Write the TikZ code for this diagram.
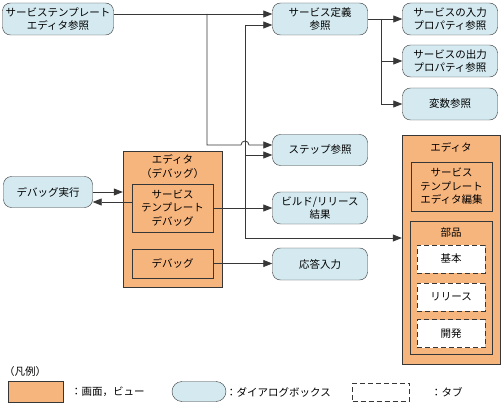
\documentclass[tikz,border=0pt]{standalone}
\usepackage{fontspec}
\setmainfont{Noto Sans CJK JP}
\usepackage{xcolor}
\usepackage{tikz}
\usetikzlibrary{
  arrows.meta,
  positioning,
  calc,
  shapes}
\definecolor{gamen}{RGB}{247,181,126}
\definecolor{dialog}{RGB}{212,234,240}
\definecolor{sen}{RGB}{55,55,55}
\tikzset{every picture/.style={font issue=\fontsize{10.5}{13.5}},
         font issue/.style={execute at begin picture={#1\selectfont}}
        }
\tikzset{dlg/.style={draw=sen, fill=dialog, rounded corners=8pt, minimum width=95pt, minimum height=32pt, align=center, inner sep=1pt},
         scr/.style={draw=sen, fill=gamen, align=center, inner sep=1pt},
         tabbox/.style={draw=sen, dashed, dash pattern=on 5pt off 3pt, fill=white, minimum width=68pt, minimum height=28pt},
         conn/.style={sen, line width=0.8pt},
         arr/.style={conn, -{Triangle[length=9pt,width=7pt]}}
        }

\begin{document}
\begin{tikzpicture}[x=1pt,y=-1pt]
\useasboundingbox (0,0) rectangle (504,404);

%Dialogs
\node[dlg, minimum width=111pt] (steref) at (58,19) {サービステンプレート\\エディタ参照};
\node[dlg] (sdef) at (320,19) {サービス定義\\参照};
\node[dlg] (inprop) at (450,19) {サービスの入力\\プロパティ参照};
\node[dlg] (outprop) at (450,61) {サービスの出力\\プロパティ参照};
\node[dlg] (varref) at (450,104) {変数参照};
\node[dlg, minimum height=31pt] (stepref) at (320,150) {ステップ参照};
\node[dlg] (build) at (320,208) {ビルド/リリース\\結果};
\node[dlg] (resp) at (320,264) {応答入力};
\node[dlg, minimum width=89pt, minimum height=31pt] (dbgrun) at (48,192) {デバッグ実行};

%Debug editor
\node[scr, minimum width=99pt, minimum height=136pt] (dbgeditor) at (172.5,219) {};
\node[below=3pt of dbgeditor.north, align=center, inner sep=1pt] (dbgtitle) {エディタ\\（デバッグ）};
\node[scr, minimum width=81pt, minimum height=48pt] (stdbg) at (172.5,208) {サービス\\テンプレート\\デバッグ};
\node[scr, minimum width=81pt, minimum height=29pt] (dbg) at (172.5,263.5) {デバッグ};

%Editor
\node[scr, minimum width=98pt, minimum height=229pt] (editor) at (451,249.5) {};
\node[below=7pt of editor.north, inner sep=1pt] (edtitle) {エディタ};
\node[scr, minimum width=81pt, minimum height=49pt] (steedit) at (451.5,186.5) {サービス\\テンプレート\\エディタ編集};
\node[scr, minimum width=82pt, minimum height=133pt] (parts) at (451,287.5) {};
\node[below=6pt of parts.north, inner sep=1pt] (partstitle) {部品};
\node[tabbox] (basic) at (451,259) {基本};
\node[tabbox] (release) at (451,297) {リリース};
\node[tabbox] (dev) at (451,333.5) {開発};

%Connectors
\coordinate (ja) at (207,14);
\coordinate (jtop) at (245,25);
\coordinate (jstep) at (245,155);
\coordinate (jbot) at (245,238);
\coordinate (jdef) at (381,19);

\draw[arr] ([yshift=5pt]steref.east) -- ([yshift=5pt]sdef.west);
\draw[arr] (ja) -- (207,145) -- (241,145) arc[start angle=180, end angle=0, radius=4pt] -- ([yshift=5pt]stepref.west);

\draw[conn] (jtop) -- (jbot);
\draw[arr] (jtop) -- ([yshift=-6pt]sdef.west);
\draw[arr] (jstep) -- ([yshift=-5pt]stepref.west);
\draw[arr] (stdbg.east) -- (stdbg.east -| build.west);
\draw[arr] (jbot) -- (jbot -| editor.west);
\draw[arr] (dbg.east) -- (dbg.east -| resp.west);

\draw[arr] (sdef.east) -- (inprop.west);
\draw[arr] (jdef) |- (outprop.west);
\draw[arr] (jdef) |- (varref.west);

\draw[arr] (dbgrun.east) -- (dbgrun.east -| dbgeditor.west);
\draw[arr] ([yshift=6pt]stdbg.west) -- ([yshift=6pt]stdbg.west -| dbgrun.east);

%Legend
\node[anchor=west, inner sep=0pt] (hanrei) at (4,372) {（凡例）};
\node[scr, minimum width=55pt, minimum height=21pt] (lgscr) at (35.5,391.5) {};
\node[anchor=west, inner sep=0pt] (lgscrtxt) at (71,392) {：画面，ビュー};
\node[dlg, minimum width=54pt, minimum height=20pt, rounded corners=10pt] (lgdlg) at (199,391.5) {};
\node[anchor=west, inner sep=0pt] (lgdlgtxt) at (226,392) {：ダイアログボックス};
\node[tabbox, minimum width=57pt, minimum height=18pt] (lgtab) at (381,392) {};
\node[anchor=west, inner sep=0pt] (lgtabtxt) at (431,392) {：タブ};
\end{tikzpicture}
\end{document}
